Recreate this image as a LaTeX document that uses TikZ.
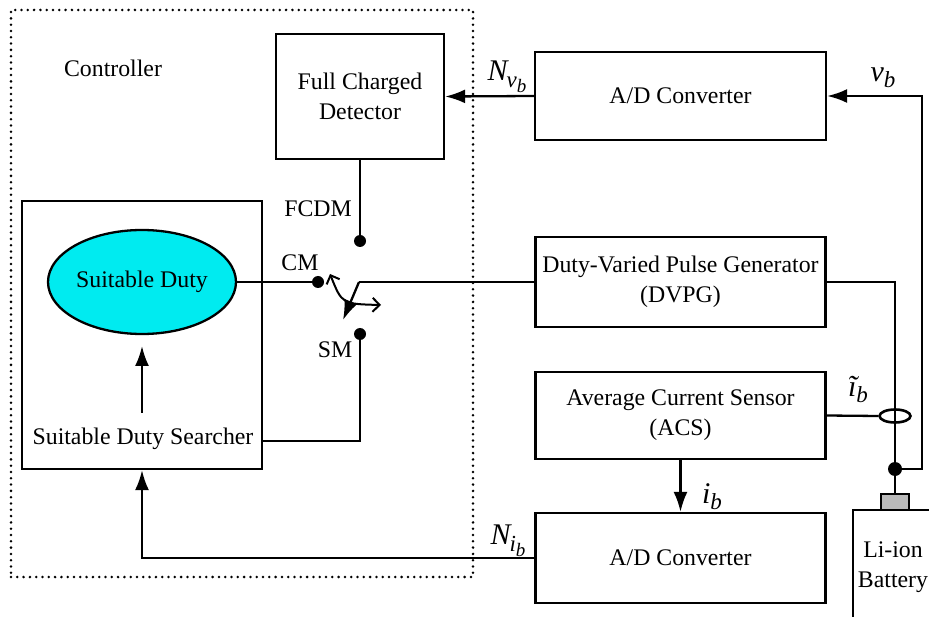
\documentclass[tikz,border=0pt]{standalone}
\usepackage{fontspec}
\setmainfont{Liberation Serif}
\usetikzlibrary{arrows.meta,shapes.geometric}
\definecolor{duty}{RGB}{0,235,240}
\newcommand{\lblA}{\fontsize{30}{30}\selectfont\itshape}
\newcommand{\lblB}{\fontsize{23}{23}\selectfont\itshape}
\newcommand{\lblC}{\fontsize{19}{19}\selectfont\itshape}
\begin{document}
\begin{tikzpicture}[x=1pt,y=-1pt,
  font=\fontsize{23.8}{30}\selectfont,
  box/.style={draw,line width=2.3pt,inner sep=0pt,align=center},
  wire/.style={line width=2.3pt},
  arr/.style={wire,-{Latex[length=20pt,width=14pt]}},
  dotn/.style={circle,fill=black,inner sep=0pt,minimum size=12pt},
  ctrl/.style={draw,line width=2.8pt,line cap=round,dash pattern=on 0pt off 6.3pt,inner sep=0pt},
  lbl/.style={inner sep=0pt}]
\useasboundingbox (0,0) rectangle (929,617);
% controller frame
\node[ctrl,minimum width=462pt,minimum height=567pt] (ctrlbox) at (242,293.5) {};
\node[lbl] (ctrltxt) at (113,68) {Controller};
% blocks
\node[box,minimum width=168pt,minimum height=125pt] (fcd) at (360,96.5) {Full Charged\\Detector};
\node[box,minimum width=291pt,minimum height=88pt] (adc1) at (680.5,96) {A/D Converter};
\node[box,minimum width=290pt,minimum height=90pt] (dvpg) at (680.5,282) {Duty-Varied Pulse Generator\\(DVPG)};
\node[box,minimum width=290pt,minimum height=87pt] (acs) at (680.5,415.5) {Average Current Sensor\\(ACS)};
\node[box,minimum width=290pt,minimum height=90pt] (adc2) at (680.5,558) {A/D Converter};
\node[box,minimum width=240pt,minimum height=268pt] (sds) at (142,335) {};
\node[lbl] (sdstxt) at (143,439) {Suitable Duty Searcher};
\node[ellipse,draw,fill=duty,line width=2.3pt,inner sep=0pt,minimum width=188pt,minimum height=104pt] (sd) at (142,282) {Suitable Duty};
% switch contacts
\node[dotn] (fcdm) at (360,241) {};
\node[dotn] (cm) at (318,282) {};
\node[dotn] (sm) at (360,334) {};
\node[lbl] (fcdmtxt) at (318,209) {FCDM};
\node[lbl] (cmtxt) at (300,263) {CM};
\node[lbl] (smtxt) at (335,350) {SM};
\coordinate (sw) at (359,282);
\coordinate (swtip) at (343,320);
\coordinate (ca1) at (330,274);
\coordinate (ca2) at (381,305);
\coordinate (smc) at (360,441);
% battery side
\node[dotn,minimum size=14pt] (jn) at (895,469) {};
\node[ellipse,draw,line width=2.6pt,inner sep=0pt,minimum width=31pt,minimum height=13pt] (cs) at (895,416) {};
\node[draw,fill=gray!55,line width=2pt,inner sep=0pt,minimum width=28pt,minimum height=16pt] (term) at (895,502) {};
\coordinate (bat1) at (853,640);
\coordinate (bat2) at (853,510);
\coordinate (bat3) at (960,510);
\node[lbl,align=center] (battxt) at (893,567) {Li-ion\\Battery};
\coordinate (vbc) at (922,96);
% inner arrow
\coordinate (ia) at (142,413);
\coordinate (ib) at (142,346);
% connectors
\draw[arr] (adc1.west) -- (fcd.east);
\draw[arr] (jn.center) -| (vbc) -- (adc1.east);
\draw[wire] (fcd.south) -- (fcdm.center);
\draw[wire] (sd.east) -- (cm.center);
\draw[wire] (dvpg.west) -- (sw);
\draw[arr] (sw) -- (swtip);
\draw[line width=2pt,{Straight Barb[length=7pt,width=14pt]}-{Straight Barb[length=7pt,width=14pt]}] (ca1) .. controls (342,304) .. (ca2);
\draw[wire] (sm.center) -- (smc) -- (sds.east |- smc);
\draw[arr] (ia) -- (ib);
\draw[wire] (dvpg.east) -| (jn.center);
\draw[wire] (jn.center) -- (term.north);
\draw[wire] (acs.east) -- (cs.west);
\draw[arr] (acs.south) -- (adc2.north);
\draw[arr] (adc2.west) -| (sds.south);
\draw[wire] (bat1) -- (bat2) -- (bat3);
% signal labels
\node[lbl] (nvb) at (507,77) {\lblA N\kern-1pt\raisebox{-7pt}{\lblB v\raisebox{-5pt}{\lblC b}}};
\node[lbl] (vb) at (883,78) {\lblA v\raisebox{-6pt}{\lblB b}};
\node[lbl] (tib) at (858,389) {\lblA ĩ\raisebox{-6pt}{\lblB b}};
\node[lbl] (ib) at (712,497) {\lblA i\raisebox{-6pt}{\lblB b}};
\node[lbl] (nib) at (508,541) {\lblA N\kern-1pt\raisebox{-7pt}{\lblB i\raisebox{-5pt}{\lblC b}}};
\end{tikzpicture}
\end{document}
